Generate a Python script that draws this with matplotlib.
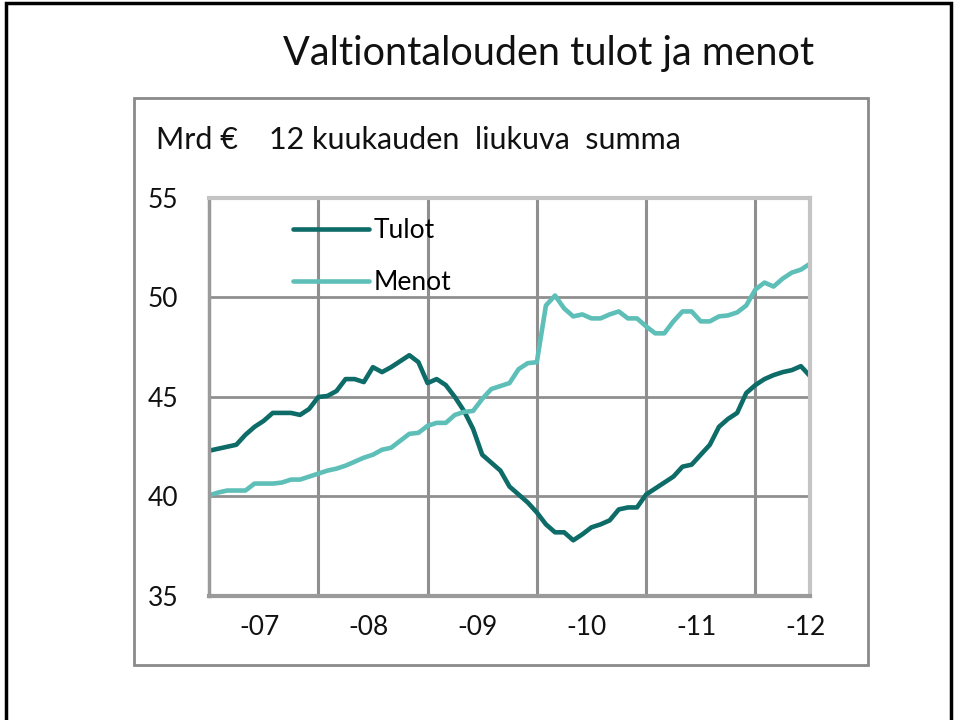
import matplotlib
matplotlib.use("Agg")
import matplotlib.pyplot as plt
from matplotlib.patches import Rectangle

plt.rcParams['font.family'] = ['Lato', 'DejaVu Sans']

# kuukausittain 1/2007 - 7/2012, mrd €
tulot = [42.3, 42.4, 42.5, 42.6, 43.1, 43.5, 43.8, 44.2, 44.2, 44.2, 44.1, 44.4,
         45.0, 45.05, 45.3, 45.9, 45.9, 45.75, 46.5, 46.25, 46.5, 46.8, 47.1, 46.75,
         45.7, 45.9, 45.6, 45.0, 44.3, 43.4, 42.1, 41.7, 41.3, 40.5, 40.1, 39.7,
         39.2, 38.6, 38.2, 38.2, 37.8, 38.1, 38.45, 38.6, 38.8, 39.35, 39.45, 39.45,
         40.1, 40.4, 40.7, 41.0, 41.5, 41.6, 42.1, 42.6, 43.5, 43.9, 44.2, 45.2,
         45.6, 45.9, 46.1, 46.25, 46.35, 46.55, 46.05]
menot = [40.05, 40.2, 40.3, 40.3, 40.3, 40.65, 40.65, 40.65, 40.7, 40.85, 40.85, 41.0,
         41.15, 41.3, 41.4, 41.55, 41.75, 41.95, 42.1, 42.35, 42.45, 42.8, 43.15, 43.2,
         43.55, 43.7, 43.7, 44.1, 44.25, 44.3, 44.9, 45.4, 45.55, 45.7, 46.4, 46.7,
         46.75, 49.6, 50.1, 49.45, 49.05, 49.15, 48.95, 48.95, 49.15, 49.3, 48.95, 48.95,
         48.55, 48.2, 48.2, 48.8, 49.3, 49.3, 48.8, 48.8, 49.05, 49.1, 49.25, 49.6,
         50.4, 50.75, 50.55, 50.95, 51.25, 51.4, 51.7]
vuodet = ['-07', '-08', '-09', '-10', '-11', '-12']
y_ticks = [35, 40, 45, 50, 55]

W, H = 955, 720
fig = plt.figure(figsize=(W / 100, H / 100), dpi=100)

# ulkokehys ja harmaa laatikko
fig.patches.append(Rectangle((6 / W, -0.05), 945 / W, 1.05 - 3 / H, transform=fig.transFigure,
                             fill=False, edgecolor='black', linewidth=2.5))
fig.patches.append(Rectangle((134 / W, 1 - 665 / H), 734 / W, 567 / H, transform=fig.transFigure,
                             fill=False, edgecolor='#8a8a8a', linewidth=2))

fig.text(549 / W, 1 - 53 / H, 'Valtiontalouden tulot ja menot', ha='center', va='center',
         fontsize=28.5, color='#111111')
fig.text(156 / W, 1 - 140 / H, 'Mrd €    12 kuukauden  liukuva  summa', ha='left', va='center',
         fontsize=22, color='#111111')

ax = fig.add_axes([209 / W, 1 - 596 / H, 601 / W, 398 / H])
x = list(range(len(tulot)))
ax.plot(x, tulot, color='#0d6b68', linewidth=3.3, label='Tulot', solid_capstyle='round')
ax.plot(x, menot, color='#5dbfb7', linewidth=3.3, label='Menot', solid_capstyle='round')

ax.set_xlim(0, len(tulot) - 1)
ax.set_ylim(35, 55)
for v in [40, 45, 50]:
    ax.axhline(v, color='#8f8f8f', linewidth=2, zorder=0)
for v in [12, 24, 36, 48, 60]:
    ax.axvline(v, color='#8f8f8f', linewidth=2.2, zorder=0)

ax.set_yticks(y_ticks)
ax.set_yticklabels([str(v) for v in y_ticks])
ax.set_xticks([5.5, 17.5, 29.5, 41.5, 53.5, 65.5])
ax.set_xticklabels(vuodet)
ax.tick_params(length=0, labelsize=19, colors='#111111')
ax.tick_params(axis='y', pad=22)
ax.tick_params(axis='x', pad=14)

ax.spines['left'].set_color('#9a9a9a')
ax.spines['bottom'].set_color('#9a9a9a')
ax.spines['left'].set_linewidth(2.5)
ax.spines['bottom'].set_linewidth(3)
ax.spines['top'].set_color('#c4c4c4')
ax.spines['right'].set_color('#c4c4c4')
ax.spines['top'].set_linewidth(3)
ax.spines['right'].set_linewidth(3)

ax.legend(loc='upper left', bbox_to_anchor=(0.101, 1.01), frameon=False, fontsize=19,
          handlelength=2.85, labelspacing=1.05, handletextpad=0.2)

plt.savefig('out.png', dpi=100)
